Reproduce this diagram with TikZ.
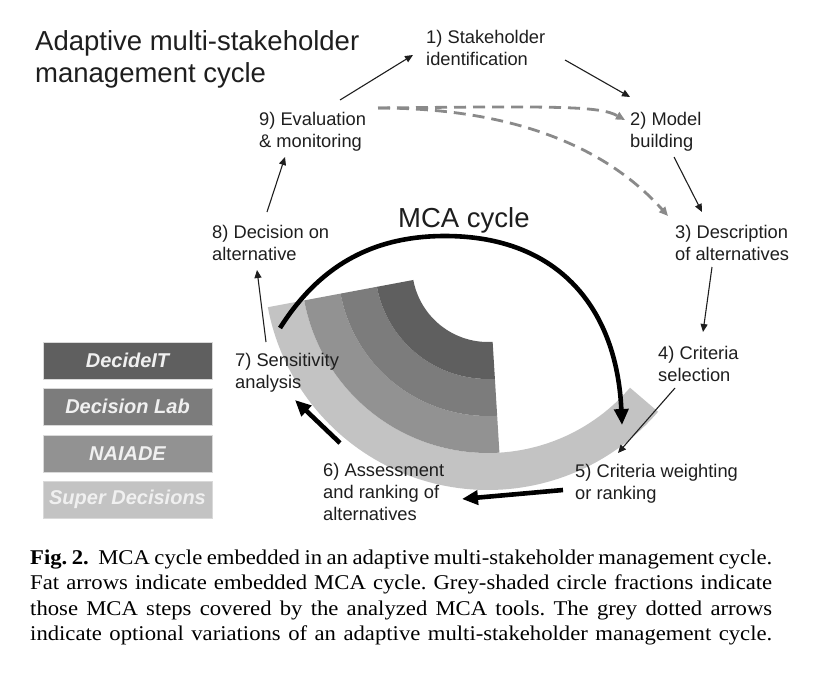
\documentclass[tikz,border=0pt]{standalone}
\usepackage{fontspec}
\setmainfont{Liberation Sans}
\newfontfamily\capfont[FakeStretch=1.08]{Liberation Serif}
\usetikzlibrary{arrows.meta,calc}
\definecolor{cDecideIT}{HTML}{5F5F5F}
\definecolor{cDecLab}{HTML}{7C7C7C}
\definecolor{cNaiade}{HTML}{929292}
\definecolor{cSuper}{HTML}{C3C3C3}
\definecolor{dashgrey}{HTML}{8A8A8A}
\definecolor{ink}{HTML}{1E1E1E}
\frenchspacing
\begin{document}
\begin{tikzpicture}[x=1pt,y=-1pt,
  lab/.style={anchor=west,align=left,inner sep=0pt,text=ink,font=\fontsize{18.3}{22}\selectfont},
  bigtext/.style={inner sep=0pt,text=ink,font=\fontsize{27.5}{32}\selectfont},
  legbox/.style={minimum width=169pt,minimum height=37pt,inner sep=0pt,draw=black!15,line width=0.8pt,text=white!94!black,font=\fontsize{20}{24}\selectfont\bfseries\itshape},
  capline/.style={anchor=base west,inner sep=0pt,text=black,font=\capfont\fontsize{21}{25.5}\selectfont},
  thinarr/.style={draw=ink,line width=1.1pt,-{Triangle[length=8pt,width=7pt]}},
  fatarr/.style={draw=black,line width=4.6pt,-{Triangle[length=16pt,width=14pt]}},
  dasharr/.style={draw=dashgrey,line width=2.8pt,dash pattern=on 12pt off 7pt,-{Triangle[length=9pt,width=8pt]}},
]
\useasboundingbox (0,0) rectangle (818,675);

% shaded circle fractions
\begin{scope}[shift={(488,266)}]
  \fill[cSuper] plot[domain=169.4:40.6,samples=80] (\x:187) -- plot[domain=40.6:169.4,samples=80] (\x:224) -- cycle;
  \fill[cNaiade] plot[domain=169.4:86.5,samples=60] (\x:150) -- plot[domain=86.5:169.4,samples=60] (\x:187) -- cycle;
  \fill[cDecLab] plot[domain=169.4:86.5,samples=60] (\x:113) -- plot[domain=86.5:169.4,samples=60] (\x:150) -- cycle;
  \fill[cDecideIT] plot[domain=169.4:86.5,samples=60] (\x:76) -- plot[domain=86.5:169.4,samples=60] (\x:113) -- cycle;
\end{scope}

% title and labels
\node[bigtext,anchor=west,align=left] (title) at (35,59) {Adaptive multi-stakeholder\\management cycle};
\node[bigtext,anchor=base west] (mca) at (398,227) {MCA cycle};

\node[lab] (t1) at (426,47.5) {1) Stakeholder\\identification};
\node[lab] (t2) at (630,131.5) {2) Model\\building};
\node[lab] (t3) at (675,242.5) {3) Description\\of alternatives};
\node[lab] (t4) at (658,363.5) {4) Criteria\\selection};
\node[lab] (t5) at (575,483.5) {5) Criteria weighting\\or ranking};
\node[lab] (t6) at (323,491.5) {6) Assessment\\and ranking of\\alternatives};
\node[lab] (t7) at (235,372.5) {7) Sensitivity\\analysis};
\node[lab] (t8) at (212,242.5) {8) Decision on\\alternative};
\node[lab] (t9) at (259,131.5) {9) Evaluation\\\& monitoring};

% legend
\node[legbox,fill=cDecideIT] (lg1) at (127.5,360.5) {DecideIT};
\node[legbox,fill=cDecLab] (lg2) at (127.5,406.5) {Decision Lab};
\node[legbox,fill=cNaiade] (lg3) at (127.5,453.5) {NAIADE};
\node[legbox,fill=cSuper] (lg4) at (127.5,499.5) {Super Decisions};

% thin cycle arrows
\draw[thinarr] ([shift={(81,-31.5)}]t9.west) -- ([shift={(-13,7.5)}]t1.west);
\draw[thinarr] ([shift={(139,12.5)}]t1.west) -- ([shift={(0,-34.5)}]t2.west);
\draw[thinarr] ([shift={(44,25.5)}]t2.west) -- ([shift={(27,-30.5)}]t3.west);
\draw[thinarr] ([shift={(37,24.5)}]t3.west) -- ([shift={(45,-31.5)}]t4.west);
\draw[thinarr] ([shift={(17,24.5)}]t4.west) -- ([shift={(43,-30.5)}]t5.west);
\draw[thinarr] ([shift={(31,-30.5)}]t7.west) -- ([shift={(45,27.5)}]t8.west);
\draw[thinarr] ([shift={(55,-30.5)}]t8.west) -- ([shift={(26,25.5)}]t9.west);

% fat MCA arrows
\draw[fatarr] ([shift={(-12,6.5)}]t5.west) -- ([shift={(139,7.5)}]t6.west);
\draw[fatarr] ([shift={(17,-48.5)}]t6.west) -- ([shift={(60,27.5)}]t7.west);
\coordinate (mcatop) at (445,236);
\draw[fatarr] ([shift={(45,-44.5)}]t7.west) .. controls (318,268) and (370,236) .. (mcatop)
  .. controls (560,236) and (617,310) .. ([shift={(47,-58.5)}]t5.west);

% dashed optional arrows
\draw[dasharr] ([shift={(119,-23.5)}]t9.west) .. controls (560,106) and (600,106) .. ([shift={(-5,-11.5)}]t2.west);
\draw[dasharr] ([shift={(119,-23.5)}]t9.west) .. controls (500,108) and (600,140) .. ([shift={(-7,-26.5)}]t3.west);

% caption
\node[capline] (cap1) at (30,564) {\makebox[742pt][s]{\textbf{Fig. 2.}\hspace{0.45em}MCA cycle embedded in an adaptive multi-stakeholder management cycle.}};
\node[capline] (cap2) at (30,589.5) {\makebox[742pt][s]{Fat arrows indicate embedded MCA cycle. Grey-shaded circle fractions indicate}};
\node[capline] (cap3) at (30,615) {\makebox[742pt][s]{those MCA steps covered by the analyzed MCA tools. The grey dotted arrows}};
\node[capline] (cap4) at (30,640.5) {\makebox[742pt][s]{indicate optional variations of an adaptive multi-stakeholder management cycle.}};
\end{tikzpicture}
\end{document}
